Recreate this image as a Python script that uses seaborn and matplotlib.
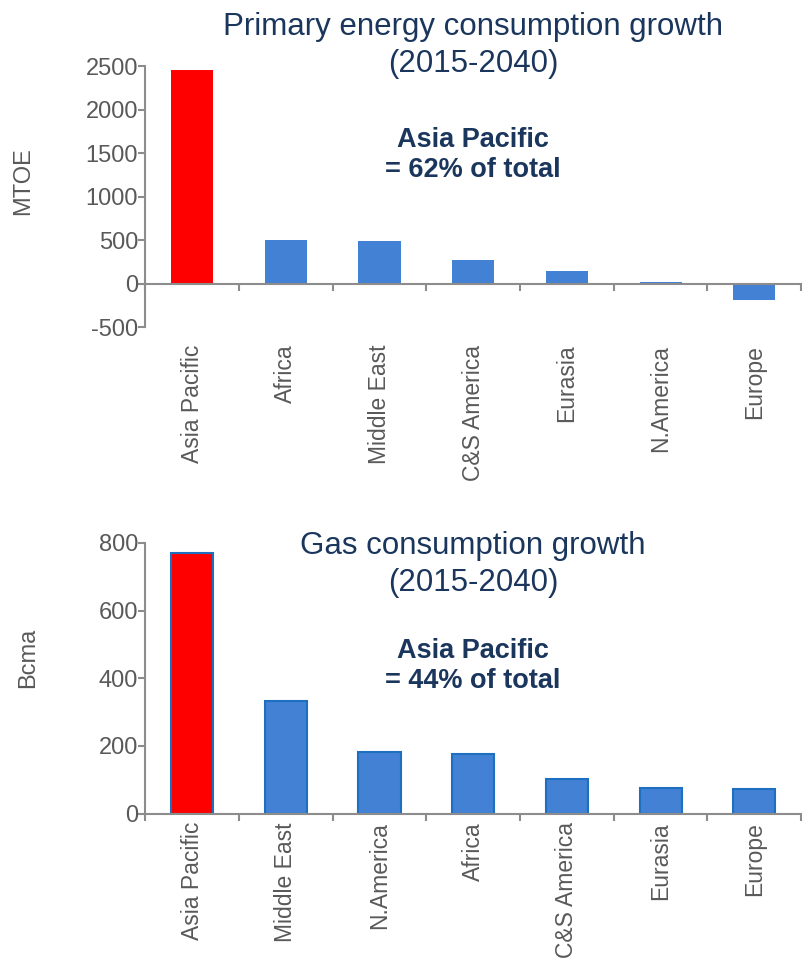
import numpy as np
import matplotlib.pyplot as plt
import seaborn as sns

# primary energy consumption growth 2015-2040 (MTOE)
energy_regions = ["Asia Pacific", "Africa", "Middle East", "C&S America",
                  "Eurasia", "N.America", "Europe"]
energy_growth = [2455, 500, 485, 268, 145, 20, -187]

# gas consumption growth 2015-2040 (Bcma)
gas_regions = ["Asia Pacific", "Middle East", "N.America", "Africa",
               "C&S America", "Eurasia", "Europe"]
gas_growth = [770, 334, 182, 175, 103, 76, 74]

energy_note = "Asia Pacific\n= 62% of total"
gas_note = "Asia Pacific\n= 44% of total"

sns.set_theme(style="white")
plt.rcParams["font.family"] = ["Liberation Sans", "DejaVu Sans"]
plt.rcParams["axes.unicode_minus"] = False

RED = "#FF0000"
BLUE = "#4281D3"
GREY = "#595959"
SPINE = "#8C8C8C"
NAVY = "#1B365D"

fig = plt.figure(figsize=(8.02, 9.71), dpi=100)
ax1 = fig.add_axes([0.181, 0.663, 0.818, 0.269])
ax2 = fig.add_axes([0.181, 0.162, 0.818, 0.279])


def draw(ax, regions, values, edge, lw, zero_axis=False, pad=6):
    cols = [RED] + [BLUE] * (len(regions) - 1)
    sns.barplot(x=regions, y=values, hue=regions, palette=cols, legend=False,
                width=0.45, saturation=1, edgecolor=edge, linewidth=lw, ax=ax)
    ax.set_xlim(-0.5, len(regions) - 0.5)
    if zero_axis:
        ax.spines["bottom"].set_position(("data", 0))
    for s in ["top", "right"]:
        ax.spines[s].set_visible(False)
    for s in ["left", "bottom"]:
        ax.spines[s].set_color(SPINE)
        ax.spines[s].set_linewidth(1.5)
    ax.tick_params(axis="y", direction="out", length=5, width=1.5, color=SPINE,
                   labelsize=17, labelcolor=GREY, left=True, pad=0)
    ax.set_xticks(np.arange(len(regions)))
    ax.set_xticklabels(regions, rotation=90, fontsize=16.5, color=GREY)
    ax.set_xticks(np.arange(len(regions) + 1) - 0.5, minor=True)
    ax.tick_params(axis="x", which="major", length=0, pad=pad)
    ax.tick_params(axis="x", which="minor", direction="out", length=5,
                   width=1.5, color=SPINE, bottom=True)
    ax.grid(False)


draw(ax1, energy_regions, energy_growth, "none", 0, zero_axis=True, pad=44)
ax1.set_ylim(-500, 2500)
ax1.set_yticks(np.arange(-500, 2501, 500))
ax1.set_ylabel("MTOE", fontsize=17, color=GREY)
ax1.yaxis.set_label_coords(-0.170, 0.56)
ax1.text(0.5, 1.08, "Primary energy consumption growth\n(2015-2040)",
         transform=ax1.transAxes, ha="center", va="center", fontsize=22.5,
         color=NAVY, linespacing=1.3)
ax1.text(0.5, 0.66, energy_note, transform=ax1.transAxes, ha="center",
         va="center", fontsize=19.5, fontweight="bold", color=NAVY,
         linespacing=1.2)

draw(ax2, gas_regions, gas_growth, "#1F6FC0", 1.5)
ax2.set_ylim(0, 800)
ax2.set_yticks(np.arange(0, 801, 200))
ax2.set_ylabel("Bcma", fontsize=17, color=GREY)
ax2.yaxis.set_label_coords(-0.161, 0.575)
ax2.text(0.5, 0.92, "Gas consumption growth\n(2015-2040)",
         transform=ax2.transAxes, ha="center", va="center", fontsize=22.5,
         color=NAVY, linespacing=1.3)
ax2.text(0.5, 0.545, gas_note, transform=ax2.transAxes, ha="center",
         va="center", fontsize=19.5, fontweight="bold", color=NAVY,
         linespacing=1.2)

fig.savefig("out.png", dpi=100)
